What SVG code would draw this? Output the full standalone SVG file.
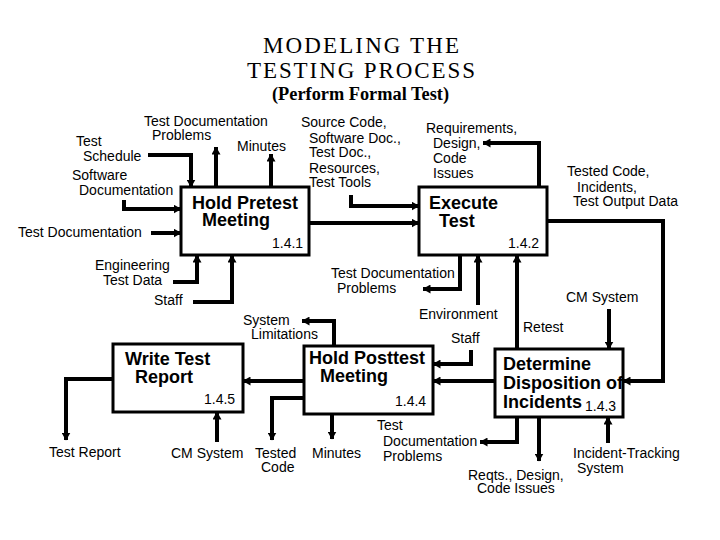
<svg xmlns="http://www.w3.org/2000/svg" width="720" height="540" viewBox="0 0 720 540">
<style>
.bg{fill:#fff}
.box rect{fill:#fff;stroke:#000;stroke-width:3}
.lbl{font-family:"Liberation Sans",Arial,sans-serif;font-size:14px;fill:#000}
.ttl{font-family:"Liberation Sans",Arial,sans-serif;font-size:18px;font-weight:bold;fill:#000}
.head{font-family:"Liberation Serif","Times New Roman",serif;fill:#000}
#connectors path{fill:none;stroke:#000;stroke-width:4;stroke-linejoin:miter;marker-end:url(#arr)}
</style>
<defs>
<marker id="arr" markerUnits="userSpaceOnUse" viewBox="0 0 8 9" refX="7.5" refY="4.5" markerWidth="8" markerHeight="9" orient="auto">
<path d="M0,0 L8,4.5 L0,9 z" fill="#000"/>
</marker>
</defs>
<rect class="bg" x="0" y="0" width="720" height="540"/>
<g id="title">
<text class="head" x="263" y="53" font-size="23" textLength="196" lengthAdjust="spacing">MODELING THE</text>
<text class="head" x="247" y="78" font-size="23" textLength="228" lengthAdjust="spacing">TESTING PROCESS</text>
<text class="head" x="272" y="100" font-size="18" font-weight="bold" textLength="177" lengthAdjust="spacingAndGlyphs">(Perform Formal Test)</text>
</g>
<g id="connectors">
<path d="M148,155 H191 V187"/>
<path d="M124,200 V209 H181"/>
<path d="M151,233 H181"/>
<path d="M216,187 V147"/>
<path d="M271,187 V154"/>
<path d="M351,195 V206 H419"/>
<path d="M309,223 H419"/>
<path d="M539,187 V143 H483"/>
<path d="M547,221 H663 V381 H623"/>
<path d="M609,309 V349"/>
<path d="M608,443 V417"/>
<path d="M539,417 V461"/>
<path d="M517,417 V442 H480"/>
<path d="M495,381 H433"/>
<path d="M517,349 V255"/>
<path d="M471,350 V364 H433"/>
<path d="M478,305 V255"/>
<path d="M460,255 V289 H423"/>
<path d="M173,282 H197 V255"/>
<path d="M193,302 H232 V255"/>
<path d="M334,346 V321 H302"/>
<path d="M304,381 H243"/>
<path d="M304,398 H272 V440"/>
<path d="M332,414 V439"/>
<path d="M217,442 V412"/>
<path d="M113,379 H66 V440"/>
</g>
<g id="n141" class="box">
<rect x="181" y="187" width="128" height="68"/>
<text class="ttl" x="192" y="209">Hold Pretest</text>
<text class="ttl" x="202" y="226">Meeting</text>
<text class="lbl" x="272" y="248">1.4.1</text>
</g>
<g id="n142" class="box">
<rect x="419" y="187" width="128" height="68"/>
<text class="ttl" x="429" y="209">Execute</text>
<text class="ttl" x="439" y="227">Test</text>
<text class="lbl" x="508" y="248">1.4.2</text>
</g>
<g id="n143" class="box">
<rect x="495" y="349" width="128" height="68"/>
<text class="ttl" x="503" y="370">Determine</text>
<text class="ttl" x="503" y="389">Disposition of</text>
<text class="ttl" x="503" y="408">Incidents</text>
<text class="lbl" x="585" y="411">1.4.3</text>
</g>
<g id="n144" class="box">
<rect x="304" y="346" width="129" height="68"/>
<text class="ttl" x="309" y="364">Hold Posttest</text>
<text class="ttl" x="320" y="382">Meeting</text>
<text class="lbl" x="395" y="406">1.4.4</text>
</g>
<g id="n145" class="box">
<rect x="113" y="344" width="130" height="68"/>
<text class="ttl" x="125" y="365">Write Test</text>
<text class="ttl" x="135" y="383">Report</text>
<text class="lbl" x="204" y="404">1.4.5</text>
</g>
<g id="labels">
<text class="lbl" x="144" y="126">Test Documentation</text>
<text class="lbl" x="152" y="140">Problems</text>
<text class="lbl" x="237" y="151">Minutes</text>
<text class="lbl" x="76" y="146">Test</text>
<text class="lbl" x="83" y="161">Schedule</text>
<text class="lbl" x="72" y="180">Software</text>
<text class="lbl" x="79" y="195">Documentation</text>
<text class="lbl" x="18" y="237">Test Documentation</text>
<text class="lbl" x="301" y="127">Source Code,</text>
<text class="lbl" x="309" y="143">Software Doc.,</text>
<text class="lbl" x="309" y="157">Test Doc.,</text>
<text class="lbl" x="309" y="173">Resources,</text>
<text class="lbl" x="309" y="187">Test Tools</text>
<text class="lbl" x="426" y="133">Requirements,</text>
<text class="lbl" x="433" y="148">Design,</text>
<text class="lbl" x="433" y="163">Code</text>
<text class="lbl" x="433" y="178">Issues</text>
<text class="lbl" x="567" y="176">Tested Code,</text>
<text class="lbl" x="577" y="192">Incidents,</text>
<text class="lbl" x="573" y="206">Test Output Data</text>
<text class="lbl" x="95" y="270">Engineering</text>
<text class="lbl" x="103" y="285">Test Data</text>
<text class="lbl" x="154" y="305">Staff</text>
<text class="lbl" x="331" y="278">Test Documentation</text>
<text class="lbl" x="337" y="293">Problems</text>
<text class="lbl" x="419" y="319">Environment</text>
<text class="lbl" x="451" y="343">Staff</text>
<text class="lbl" x="523" y="332">Retest</text>
<text class="lbl" x="566" y="302">CM System</text>
<text class="lbl" x="243" y="325">System</text>
<text class="lbl" x="251" y="339">Limitations</text>
<text class="lbl" x="49" y="457">Test Report</text>
<text class="lbl" x="171" y="458">CM System</text>
<text class="lbl" x="255" y="458">Tested</text>
<text class="lbl" x="261" y="472">Code</text>
<text class="lbl" x="312" y="458">Minutes</text>
<text class="lbl" x="377" y="430">Test</text>
<text class="lbl" x="383" y="446">Documentation</text>
<text class="lbl" x="383" y="461">Problems</text>
<text class="lbl" x="468" y="480">Reqts., Design,</text>
<text class="lbl" x="477" y="493">Code Issues</text>
<text class="lbl" x="573" y="458">Incident-Tracking</text>
<text class="lbl" x="577" y="473">System</text>
</g>
</svg>
